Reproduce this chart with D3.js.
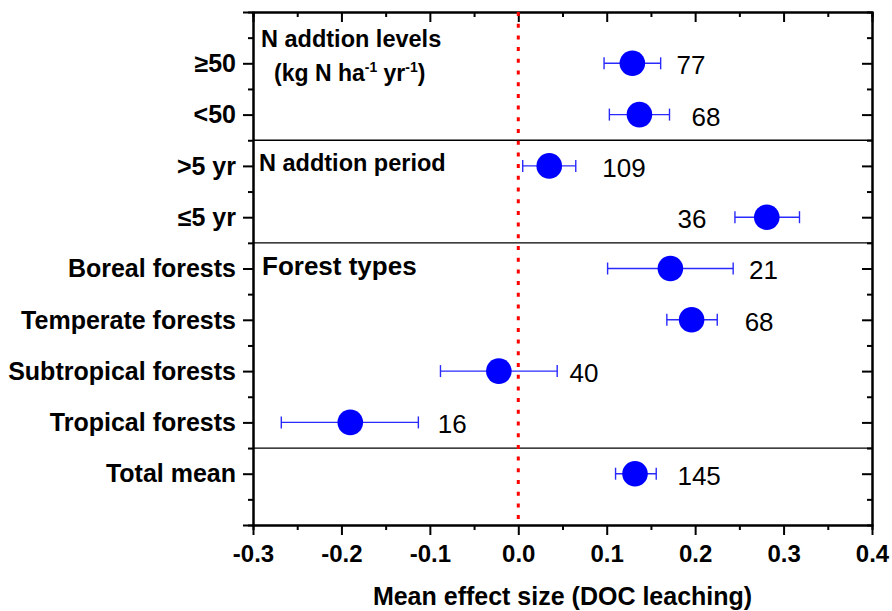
<!DOCTYPE html>
<html>
<head>
    <script src="https://d3js.org/d3.v7.min.js"></script>
    <style>
        body { margin: 0; background: #fff; }
        text { font-family: Arial, "Liberation Sans", sans-serif; fill: #000; }
        .ylab text { font-weight: bold; font-size: 25px; }
        .xlab text { font-weight: bold; font-size: 24px; }
        .axis path, .axis line { stroke: #000; stroke-width: 2px; }
        .nlab { font-size: 26px; }
        .note { font-weight: bold; }
    </style>
</head>
<body>
<script>
    // row categories, top to bottom
    var categories = ["\u226550", "<50", ">5 yr", "\u22645 yr",
        "Boreal forests", "Temperate forests", "Subtropical forests",
        "Tropical forests", "Total mean"];
    // mean effect size and 95% CI
    var means  = [0.129, 0.137, 0.035, 0.281, 0.172, 0.196, -0.022, -0.190, 0.132];
    var ciLow  = [0.097, 0.103, 0.005, 0.245, 0.101, 0.168, -0.088, -0.268, 0.110];
    var ciHigh = [0.161, 0.171, 0.065, 0.318, 0.243, 0.225, 0.044, -0.113, 0.156];
    // number of observations, and where the number is written (effect size units)
    var nObs     = [77, 68, 109, 36, 21, 68, 40, 16, 145];
    var nLabelAt = [0.179, 0.196, 0.095, 0.180, 0.261, 0.256, 0.058, -0.091, 0.180];
    // group separators (between rows)
    var separators = [1.5, 3.5, 7.5];
    var xTicks = [-0.3, -0.2, -0.1, 0.0, 0.1, 0.2, 0.3, 0.4];
    var xMinor = [-0.25, -0.15, -0.05, 0.05, 0.15, 0.25, 0.35];

    var margin = {top: 12, right: 20, bottom: 86, left: 253},
        width = 892 - margin.left - margin.right,
        height = 611 - margin.top - margin.bottom;

    var x = d3.scaleLinear().domain([-0.3, 0.4]).range([0, width]);
    var y = d3.scaleLinear().domain([-1, 9]).range([0, height]);

    var svg = d3.select("body").append("svg")
        .attr("width", width + margin.left + margin.right)
        .attr("height", height + margin.top + margin.bottom)
        .append("g")
        .attr("transform", "translate(" + margin.left + "," + margin.top + ")");

    var rowTicks = d3.range(0, 9);
    var rowMinor = d3.range(-0.5, 9, 1);
    var fmt = function(d) { return d.toFixed(1); };

    // minor ticks first, then major axes
    svg.append("g").attr("class", "axis")
        .call(d3.axisLeft(y).tickValues(rowMinor).tickSize(5).tickFormat(""));
    svg.append("g").attr("class", "axis ylab")
        .call(d3.axisLeft(y).tickValues([-1].concat(rowTicks, [9])).tickSize(10).tickSizeOuter(0).tickPadding(7)
            .tickFormat(function(d) { return d >= 0 && d < 9 ? categories[d] : ""; }))
        .selectAll("text").attr("dy", "0.33em");

    svg.append("g").attr("class", "axis").attr("transform", "translate(" + width + ",0)")
        .call(d3.axisLeft(y).tickValues(rowMinor).tickSize(5).tickFormat(""));
    svg.append("g").attr("class", "axis").attr("transform", "translate(" + width + ",0)")
        .call(d3.axisLeft(y).tickValues(rowTicks).tickSize(10).tickSizeOuter(0).tickFormat(""));

    svg.append("g").attr("class", "axis").attr("transform", "translate(0," + height + ")")
        .call(d3.axisBottom(x).tickValues(xMinor).tickSize(5).tickFormat(""));
    svg.append("g").attr("class", "axis xlab").attr("transform", "translate(0," + height + ")")
        .call(d3.axisBottom(x).tickValues(xTicks).tickSize(10).tickSizeOuter(0).tickPadding(10).tickFormat(fmt));

    svg.append("g").attr("class", "axis")
        .call(d3.axisBottom(x).tickValues(xMinor).tickSize(5).tickFormat(""));
    svg.append("g").attr("class", "axis")
        .call(d3.axisBottom(x).tickValues(xTicks).tickSize(10).tickSizeOuter(0).tickFormat(""));

    // group separators
    svg.selectAll(".sep")
        .data(separators)
        .enter().append("line")
        .attr("class", "sep")
        .attr("x1", 0).attr("x2", width)
        .attr("y1", function(d) { return y(d); })
        .attr("y2", function(d) { return y(d); })
        .attr("stroke", "#000").attr("stroke-width", 1.3);

    // zero line
    svg.append("line")
        .attr("x1", x(0)).attr("x2", x(0))
        .attr("y1", 0).attr("y2", height)
        .attr("stroke", "#ff0000").attr("stroke-width", 3)
        .attr("stroke-dasharray", "4,7.7");

    var rows = categories.map(function(c, i) {
        return {i: i, m: means[i], lo: ciLow[i], hi: ciHigh[i], n: nObs[i], at: nLabelAt[i]};
    });

    var g = svg.selectAll(".row")
        .data(rows)
        .enter().append("g")
        .attr("class", "row")
        .attr("transform", function(d) { return "translate(0," + y(d.i) + ")"; });

    g.append("line")
        .attr("x1", function(d) { return x(d.lo); })
        .attr("x2", function(d) { return x(d.hi); })
        .attr("stroke", "#2a2aff").attr("stroke-width", 1.4);
    g.append("line")
        .attr("x1", function(d) { return x(d.lo); })
        .attr("x2", function(d) { return x(d.lo); })
        .attr("y1", -6).attr("y2", 6)
        .attr("stroke", "#2a2aff").attr("stroke-width", 1.4);
    g.append("line")
        .attr("x1", function(d) { return x(d.hi); })
        .attr("x2", function(d) { return x(d.hi); })
        .attr("y1", -6).attr("y2", 6)
        .attr("stroke", "#2a2aff").attr("stroke-width", 1.4);
    g.append("circle")
        .attr("cx", function(d) { return x(d.m); })
        .attr("r", 12.8)
        .attr("fill", "#0000ff");
    g.append("text")
        .attr("class", "nlab")
        .attr("x", function(d) { return x(d.at); })
        .attr("dy", "0.42em")
        .text(function(d) { return d.n; });

    // group titles
    svg.append("text").attr("class", "note")
        .attr("x", 8).attr("y", y(0) - 16)
        .style("font-size", "23.5px")
        .text("N addtion levels");
    var t2 = svg.append("text").attr("class", "note")
        .attr("x", 21).attr("y", y(0) + 18)
        .style("font-size", "23px");
    t2.append("tspan").text("(kg N ha");
    t2.append("tspan").attr("dy", -9).style("font-size", "14px").text("-1");
    t2.append("tspan").attr("dy", 9).text(" yr");
    t2.append("tspan").attr("dy", -9).style("font-size", "14px").text("-1");
    t2.append("tspan").attr("dy", 9).text(")");

    svg.append("text").attr("class", "note")
        .attr("x", 6).attr("y", y(2) + 5)
        .style("font-size", "23.5px")
        .text("N addtion period");
    svg.append("text").attr("class", "note")
        .attr("x", 9).attr("y", y(4) + 6)
        .style("font-size", "26px")
        .text("Forest types");

    // x axis title
    svg.append("text")
        .attr("x", width / 2)
        .attr("y", height + 80)
        .style("text-anchor", "middle")
        .style("font-weight", "bold")
        .style("font-size", "25px")
        .text("Mean effect size (DOC leaching)");
</script>
</body>
</html>
